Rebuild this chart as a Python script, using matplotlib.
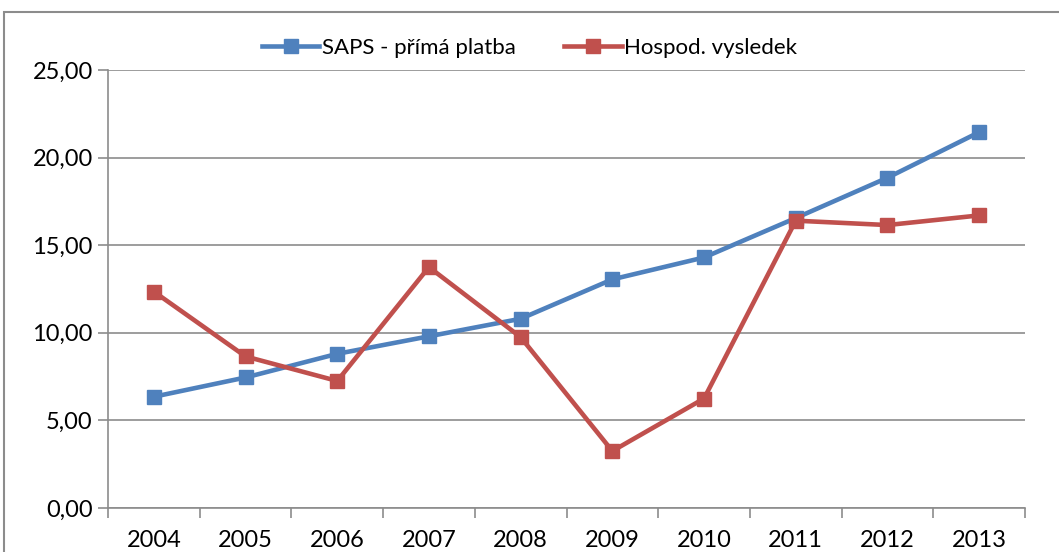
import matplotlib
matplotlib.use("Agg")
import matplotlib.pyplot as plt
from matplotlib.patches import Rectangle
from matplotlib.ticker import FuncFormatter
import numpy as np

years = ["2004", "2005", "2006", "2007", "2008", "2009", "2010", "2011", "2012", "2013"]
saps = [6.35, 7.45, 8.8, 9.8, 10.8, 13.05, 14.3, 16.55, 18.85, 21.45]
hospod = [12.35, 8.65, 7.25, 13.75, 9.75, 3.25, 6.25, 16.4, 16.15, 16.7]
series_names = ["SAPS - přímá platba", "Hospod. vysledek"]

plt.rcParams["font.family"] = ["Lato", "DejaVu Sans"]

fig = plt.figure(figsize=(10.59, 5.52), dpi=100)
ax = fig.add_axes([108 / 1059, 1 - 508 / 552, (1025 - 108) / 1059, (508 - 70) / 552])

# outer chart frame (cropped at right and bottom)
fig.patches.append(Rectangle((4 / 1059, -0.05), 1.1, 0.05 + (1 - 12 / 552),
                             transform=fig.transFigure, fill=False,
                             edgecolor="#8c8c8c", linewidth=1.5))

x = np.arange(len(years))
ax.plot(x, saps, color="#4F81BD", linewidth=3.3, marker="s", markersize=10,
        label=series_names[0], zorder=3)
ax.plot(x, hospod, color="#C0504D", linewidth=3.3, marker="s", markersize=10,
        label=series_names[1], zorder=3)

ax.set_xlim(-0.5, len(years) - 0.5)
ax.set_ylim(0, 25)
ax.set_yticks(np.arange(0, 26, 5))
ax.yaxis.set_major_formatter(FuncFormatter(lambda v, p: f"{v:.2f}".replace(".", ",")))
ax.grid(axis="y", color="#8c8c8c", linewidth=1.2)
ax.set_axisbelow(True)

ax.set_xticks(x)
ax.set_xticklabels(years)
ax.set_xticks(np.arange(-0.5, len(years)), minor=True)
ax.tick_params(axis="x", which="major", length=0, labelsize=17, pad=16)
ax.tick_params(axis="x", which="minor", length=7, color="#8c8c8c", width=1.2)
ax.tick_params(axis="y", length=7, color="#8c8c8c", width=1.2, labelsize=17, pad=4)

for side in ["top", "right"]:
    ax.spines[side].set_visible(False)
for side in ["left", "bottom"]:
    ax.spines[side].set_color("#8c8c8c")
    ax.spines[side].set_linewidth(1.2)

ax.legend(loc="center", bbox_to_anchor=(0.5, 1 - 48 / 552), bbox_transform=fig.transFigure,
          ncol=2, frameon=False, fontsize=16, handlelength=2.6, handletextpad=0.1,
          columnspacing=2.2, markerscale=1.0)

fig.savefig("out.png", dpi=100)
